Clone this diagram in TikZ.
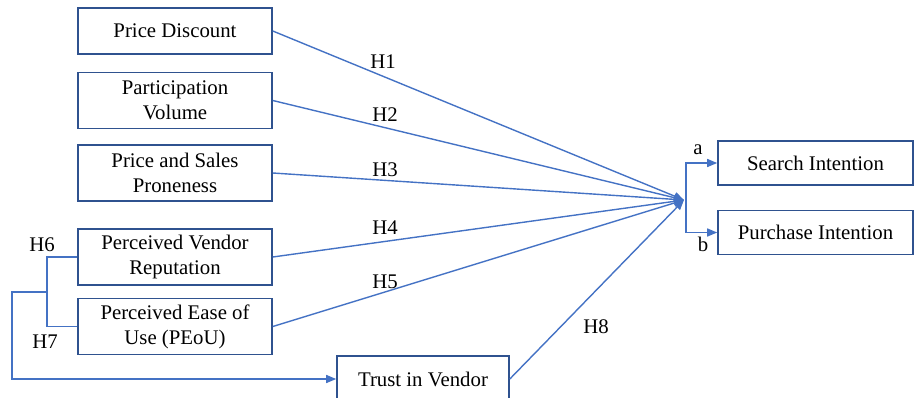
\documentclass[tikz,border=0pt]{standalone}
\usepackage{fontspec}
\setmainfont{Liberation Serif}
\usepackage{tikz}
\usetikzlibrary{arrows.meta,positioning,calc}
\usepackage{xcolor}
\definecolor{boxblue}{RGB}{47,82,143}
\definecolor{linkblue}{RGB}{68,114,196}
\tikzset{
  factor/.style={rectangle, draw=boxblue, line width=1.6pt, fill=white,
                 minimum width=194pt, minimum height=46pt, inner sep=2pt,
                 align=center, font=\rmfamily\fontsize{20.8}{25}\selectfont},
  factortwo/.style={factor, minimum height=56pt},
  outcome/.style={factor, minimum width=195pt, minimum height=44pt},
  link/.style={linkblue, line width=1.4pt},
  linkarrow/.style={link, -{Triangle[length=10pt, width=8pt]}},
  hyp/.style={font=\rmfamily\fontsize{20.8}{25}\selectfont, inner sep=0pt},
}

\begin{document}
\begin{tikzpicture}[x=1pt, y=-1pt]
\useasboundingbox (0,0) rectangle (914,397);
\node[factor] (pd) at (175,31) {Price Discount};
\node[factortwo] (pv) at (175,100.5) {Participation\\Volume};
\node[factortwo] (psp) at (175,173) {Price and Sales\\Proneness};
\node[factortwo] (pvr) at (175,257) {Perceived Vendor\\Reputation};
\node[factortwo] (peou) at (175,326.5) {Perceived Ease of\\Use (PEoU)};
\node[factor, minimum width=172pt] (tv) at (423,379) {Trust in Vendor};
\node[outcome] (si) at (815.5,163) {Search Intention};
\node[outcome] (pi) at (815.5,232.5) {Purchase Intention};

\coordinate (hub) at (684,200);
\coordinate (split) at (686,200);
\coordinate (brk) at (47,292);
\coordinate (bend) at (12,292);

% paths into the outcomes
\foreach \n in {pd, pv, psp, pvr, peou, tv}
  \draw[linkarrow] (\n.east) -- (hub);
\draw[linkarrow] (split) |- (si.west);
\draw[linkarrow] (split) |- (pi.west);

% antecedents of trust
\draw[link] (pvr.west) -| (brk) |- (peou.west);
\draw[linkarrow] (brk) -- (bend) |- (tv.west);

\node[hyp] at (383,62) {H1};
\node[hyp] at (385,115) {H2};
\node[hyp] at (385,170) {H3};
\node[hyp] at (385,228) {H4};
\node[hyp] at (385,282) {H5};
\node[hyp] at (42,245) {H6};
\node[hyp] at (45,342) {H7};
\node[hyp] at (596,327) {H8};
\node[hyp] at (698,150) {a};
\node[hyp] at (703,244) {b};
\end{tikzpicture}
\end{document}
